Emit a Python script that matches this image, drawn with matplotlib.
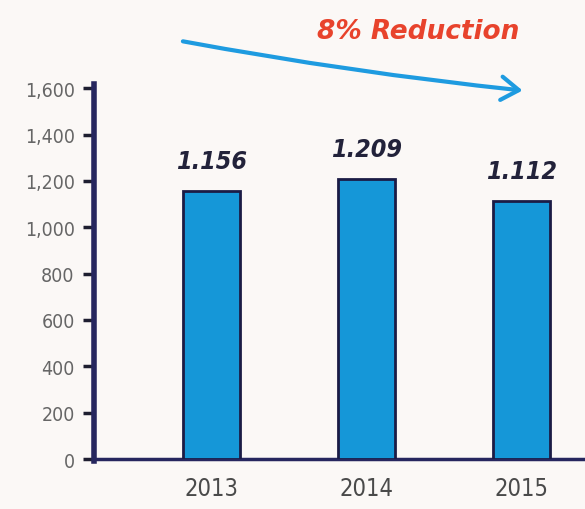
import matplotlib.pyplot as plt
from matplotlib.patches import FancyArrowPatch

years = ["2013", "2014", "2015"]
values = [1156, 1209, 1112]
value_labels = ["1.156", "1.209", "1.112"]
y_ticks = [0, 200, 400, 600, 800, 1000, 1200, 1400, 1600]

bg = "#fbf8f6"
navy = "#26265e"
bar_blue = "#1597d8"

fig = plt.figure(figsize=(5.85, 5.1), dpi=100, facecolor=bg)
ax = fig.add_axes([0.161, 0.098, 0.839, 0.727])
ax.set_facecolor(bg)

x = range(len(years))
ax.bar(x, values, width=0.37, color=bar_blue, edgecolor="#1b1b45", linewidth=2, zorder=3)

for i, (v, lab) in enumerate(zip(values, value_labels)):
    ax.annotate(lab, (i, v), xytext=(0, 13), textcoords="offset points",
                ha="center", va="bottom", fontsize=18, fontweight="bold",
                fontstyle="italic", color="#22223a", fontstretch="condensed")

ax.set_xlim(-0.755, 2.41)
ax.set_ylim(0, 1600)
ax.set_yticks(y_ticks)
ax.set_yticklabels([f"{t:,}" for t in y_ticks], fontsize=14, color="#666666",
                   fontstretch="condensed")
ax.set_xticks(list(x))
ax.set_xticklabels(years, fontsize=17, color="#4a4a4a", fontstretch="condensed")
ax.tick_params(axis="y", length=8, width=2.5, color="#1e1e30", pad=6)
ax.tick_params(axis="x", length=0, pad=12)

for s in ["top", "right"]:
    ax.spines[s].set_visible(False)
ax.spines["left"].set_color(navy)
ax.spines["left"].set_linewidth(4)
ax.spines["left"].set_bounds(-10, 1620)
ax.spines["bottom"].set_color(navy)
ax.spines["bottom"].set_linewidth(2.5)
ax.spines["left"].set_clip_on(False)

fig.text(0.714, 0.937, "8% Reduction", ha="center", va="center", fontsize=19,
         fontweight="bold", fontstyle="italic", color="#e8432c")
fig.patches.append(FancyArrowPatch(
    (0.308, 0.918), (0.898, 0.820), transform=fig.transFigure,
    arrowstyle="->,head_length=0.9,head_width=0.6",
    connectionstyle="arc3,rad=0.02", color="#1e9be0", linewidth=3,
    mutation_scale=14))

fig.savefig("out.png", dpi=100, facecolor=bg)
